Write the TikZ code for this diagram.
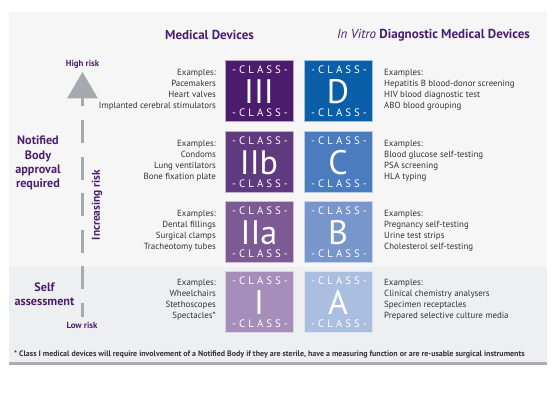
\documentclass[tikz,border=0pt]{standalone}
\usepackage{fontspec}
\setmainfont{PT Sans}
\newfontfamily\classfont[LetterSpace=28]{PT Sans}
\usetikzlibrary{calc}
\definecolor{panel}{HTML}{F6F6F6}
\definecolor{panellow}{HTML}{EEEFF1}
\definecolor{shadow}{HTML}{A9ADB1}
\definecolor{purp}{HTML}{4B1F6F}
\definecolor{txt}{HTML}{333333}
\definecolor{arrowgray}{HTML}{A6AAAE}
\definecolor{cIII}{HTML}{4B1C6B}
\definecolor{cIIb}{HTML}{5F3A7E}
\definecolor{cIIa}{HTML}{7D5A94}
\definecolor{cI}{HTML}{A58FBA}
\definecolor{cD}{HTML}{0B5EA8}
\definecolor{cC}{HTML}{4A7CBF}
\definecolor{cB}{HTML}{7896CC}
\definecolor{cA}{HTML}{AABEE0}
\tikzset{
  classbox/.style={rectangle, minimum width=68pt, minimum height=61pt, inner sep=0pt, draw=white!60!#1, line width=0.6pt, fill=#1},
  classword/.style={text=white, inner sep=0pt, font=\classfont\fontsize{10.8}{11}\selectfont},
  classbig/.style={text=white, inner sep=0pt, font=\fontsize{34}{34}\selectfont},
  exleft/.style={anchor=east, align=right, inner sep=0pt, text=txt, font=\fontsize{8.9}{11}\selectfont},
  exright/.style={anchor=west, align=left, inner sep=0pt, text=txt, font=\fontsize{8.9}{11}\selectfont},
  header/.style={text=purp, inner sep=0pt, font=\bfseries\fontsize{13}{15}\selectfont},
  sidelabel/.style={text=purp, inner sep=0pt, align=center, font=\bfseries\fontsize{12.2}{14.2}\selectfont},
  risklabel/.style={text=purp, inner sep=0pt, font=\bfseries\fontsize{8.8}{10}\selectfont},
}
\newcommand\mkclass[5]{%
  \node[classbox=#4] (#1) at (#2,#3) {};
  \node[classword] (#1t) at ($(#1.north)+(1,10)$) {-CLASS-};
  \node[classbig] (#1m) at ($(#1.center)+(0,1)$) {#5};
  \node[classword] (#1b) at ($(#1.south)+(1,-9)$) {-CLASS-};
}
\begin{document}
\begin{tikzpicture}[x=1pt,y=-1pt]
\useasboundingbox (0,0) rectangle (558,412);
% panel
\fill[shadow] (9,14) rectangle (547,365);
\fill[panel] (9,12) rectangle (547,267);
\fill[panellow] (9,267) rectangle (547,362);
% headers
\node[header] (hmd) at (209.5,35) {Medical Devices};
\node[header] (hivd) at (433.5,35) {\textit{\mdseries In Vitro} Diagnostic Medical Devices};
% class boxes
\mkclass{III}{259}{91}{cIII}{III}
\mkclass{IIb}{259}{162}{cIIb}{IIb}
\mkclass{IIa}{259}{232}{cIIa}{IIa}
\mkclass{I}{259}{301.5}{cI}{I}
\mkclass{D}{338}{91}{cD}{D}
\mkclass{C}{338}{162}{cC}{C}
\mkclass{B}{338}{232}{cB}{B}
\mkclass{A}{338}{301.5}{cA}{A}
% examples
\node[exleft] (exIII) at (216,89.5) {Examples:\\Pacemakers\\Heart valves\\Implanted cerebral stimulators};
\node[exleft] (exIIb) at (216,160.5) {Examples:\\Condoms\\Lung ventilators\\Bone fixation plate};
\node[exleft] (exIIa) at (216,230.5) {Examples:\\Dental fillings\\Surgical clamps\\Tracheotomy tubes};
\node[exleft] (exI) at (216,300) {Examples:\\Wheelchairs\\Stethoscopes\\Spectacles*};
\node[exright] (exD) at (384,89.5) {Examples:\\Hepatitis B blood-donor screening\\HIV blood diagnostic test\\ABO blood grouping};
\node[exright] (exC) at (384,160.5) {Examples:\\Blood glucose self-testing\\PSA screening\\HLA typing};
\node[exright] (exB) at (384,230.5) {Examples:\\Pregnancy self-testing\\Urine test strips\\Cholesterol self-testing};
\node[exright] (exA) at (384,300) {Examples:\\Clinical chemistry analysers\\Specimen receptacles\\Prepared selective culture media};
% risk arrow
\coordinate (apex) at (82.5,72);
\coordinate (bl) at (67,98.5);
\coordinate (br) at (98,98.5);
\coordinate (shtop) at (82.5,98);
\coordinate (shbot) at (82.5,317);
\fill[arrowgray] (apex) -- (br) -- (bl) -- cycle;
\draw[arrowgray, line width=3.3pt, dash pattern=on 23pt off 13.6pt, dash phase=14.6pt] (shtop) -- (shbot);
\node[risklabel] (high) at (82.5,64) {High risk};
\node[risklabel] (low) at (82,325) {Low risk};
\node[text=purp, inner sep=0pt, rotate=90, font=\bfseries\fontsize{11.4}{13}\selectfont] (inc) at (97,205) {Increasing risk};
% side labels
\node[sidelabel] (nb) at (38,163) {Notified\\Body\\approval\\required};
\node[sidelabel] (sa) at (44.5,294.5) {Self\\assessment};
% footnote
\node[text=txt, inner sep=0pt, anchor=west, font=\bfseries\fontsize{7.95}{9}\selectfont] (fn) at (14,354) {* Class I medical devices will require involvement of a Notified Body if they are sterile, have a measuring function or are re-usable surgical instruments};
\end{tikzpicture}
\end{document}
